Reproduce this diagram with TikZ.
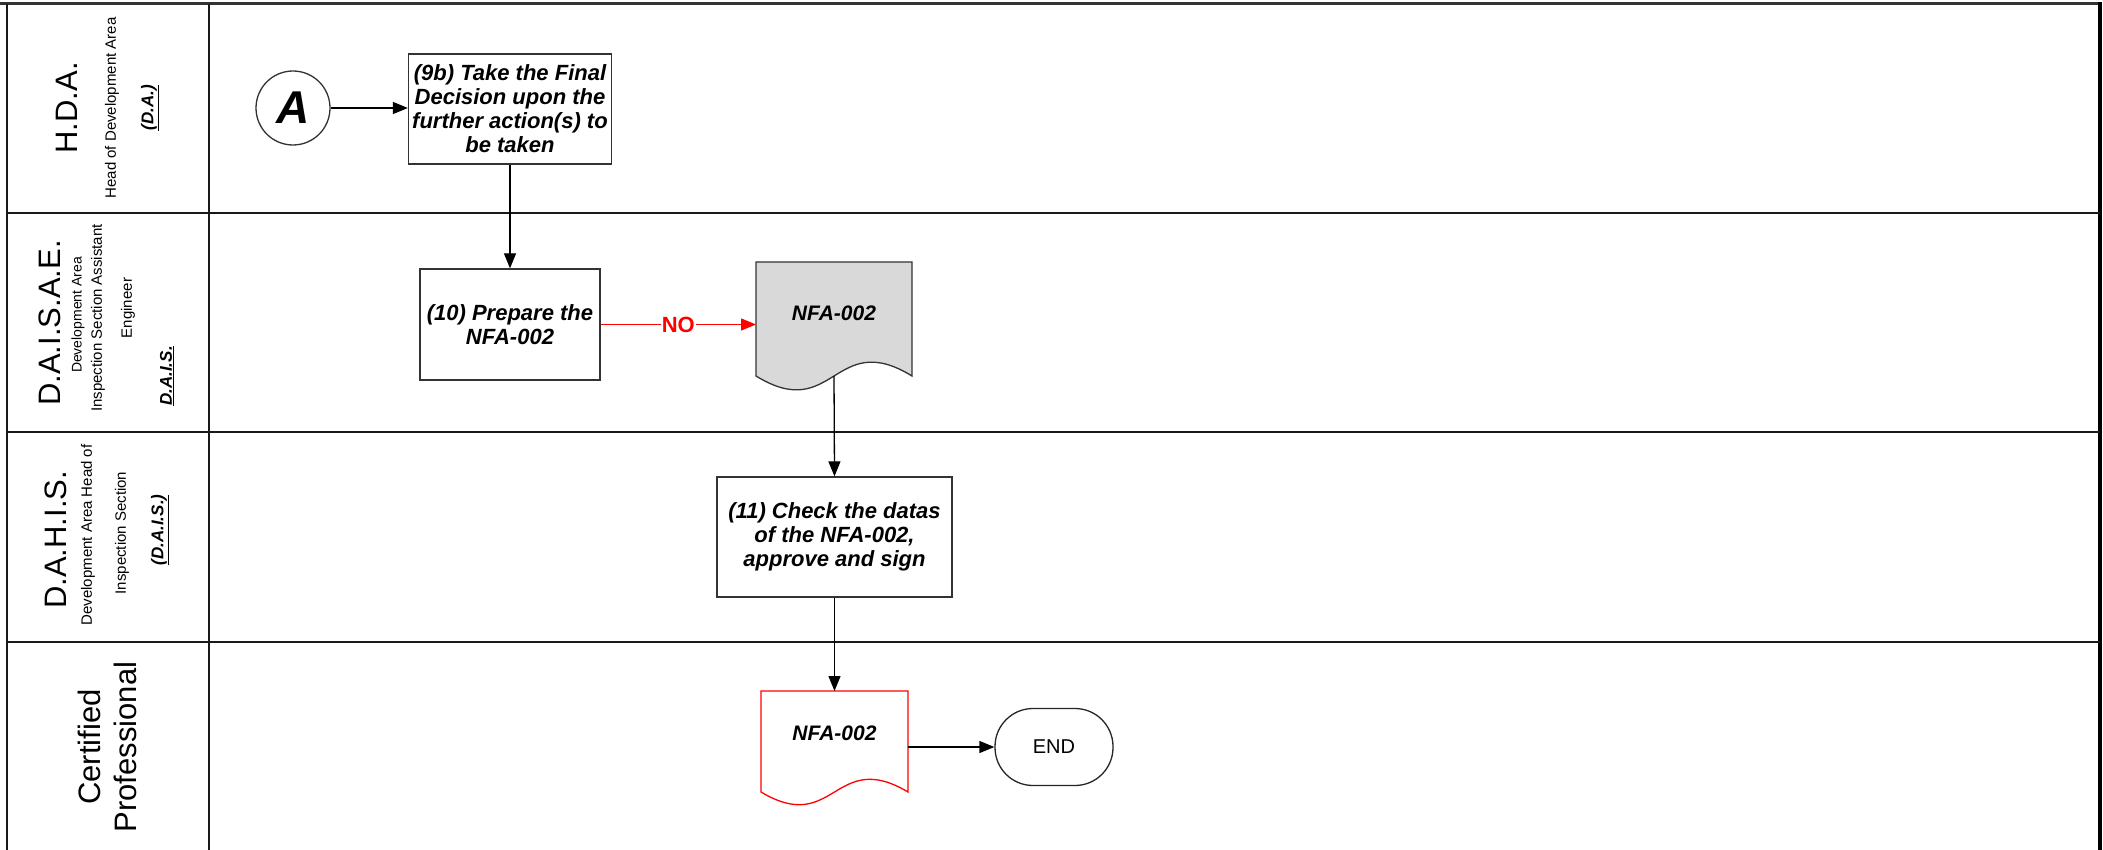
\documentclass[tikz,border=0pt]{standalone}
\usepackage{fontspec}
\setmainfont{Liberation Sans}
\usetikzlibrary{arrows.meta,calc}
\definecolor{docgray}{RGB}{217,217,217}
\definecolor{nored}{RGB}{255,0,0}
\tikzset{
  lane/.style={line width=2pt, draw=black!90},
  proc/.style={draw=black!80, line width=1.3pt, fill=white, align=center,
    font=\fontsize{22}{24}\selectfont\bfseries\itshape, inner sep=0pt},
  conn/.style={line width=1.3pt, draw=black, -{Triangle[length=15pt,width=12pt]}},
  noconn/.style={line width=1.3pt, draw=nored, -{Triangle[length=15pt,width=12pt]}},
  bigl/.style={rotate=90, font=\fontsize{31}{31}\selectfont, inner sep=0pt},
  smalll/.style={rotate=90, font=\fontsize{15}{15}\selectfont, inner sep=0pt},
  abbrl/.style={rotate=90, font=\fontsize{17}{17}\selectfont\bfseries\itshape, inner sep=0pt},
  docarea/.style={inner sep=0pt, outer sep=0pt},
  doctext/.style={font=\fontsize{21}{24}\selectfont\bfseries\itshape, inner sep=0pt},
}
\begin{document}
\begin{tikzpicture}[x=1pt, y=-1pt]
\useasboundingbox (0,0) rectangle (2103,850);
\fill[white] (0,0) rectangle (2103,850);
% swimlane frame
\draw[line width=3pt, draw=black!80] (0,4) -- (2100,4);
\draw[lane] (7,4) -- (7,850);
\draw[line width=4pt, draw=black] (2100,2) -- (2100,850);
\draw[lane] (209,4) -- (209,850);
\draw[lane] (7,213) -- (2100,213);
\draw[lane] (7,432) -- (2100,432);
\draw[lane] (7,642) -- (2100,642);
% lane labels
\node[bigl] (l1a) at (67,108) {H.D.A.};
\node[smalll] (l1b) at (112,108) {Head of Development Area};
\node[abbrl] (l1c) at (150,108) {\underline{(D.A.)}};
\node[bigl] (l2a) at (50,323) {D.A.I.S.A.E.};
\node[smalll, font=\fontsize{14}{14}\selectfont] (l2b) at (78,315) {Development Area};
\node[smalll] (l2c) at (98,318) {Inspection Section Assistant};
\node[smalll] (l2d) at (128,308) {Engineer};
\node[abbrl] (l2e) at (167,376) {\underline{D.A.I.S.}};
\node[bigl] (l3a) at (56,540) {D.A.H.I.S.};
\node[smalll] (l3b) at (88,535) {Development Area Head of};
\node[smalll] (l3c) at (122,533) {Inspection Section};
\node[abbrl] (l3d) at (160,530) {\underline{(D.A.I.S.)}};
\node[bigl] (l4a) at (89,747) {Certified};
\node[bigl] (l4b) at (125,747) {Professional};
% shapes
\node[draw=black!80, circle, line width=1.3pt, minimum size=74pt, inner sep=0pt,
  font=\fontsize{46}{46}\selectfont\bfseries\itshape] (a) at (293,108) {A};
\node[proc, minimum width=203pt, minimum height=110pt] (b9) at (510,109)
  {(9b) Take the Final\\Decision upon the\\further action(s) to\\be taken};
\node[proc, minimum width=180pt, minimum height=111pt] (b10) at (510,324.5)
  {(10) Prepare the\\NFA-002};
\node[docarea, minimum width=156pt, minimum height=114pt] (doc1) at (834,319) {};
\draw[fill=docgray, draw=black!80, line width=1.3pt]
  (doc1.south west) -- (doc1.north west) -- (doc1.north east) -- (doc1.south east)
  .. controls ($(doc1.south)+(0,-48)$) and ($(doc1.south)+(0,48)$) .. (doc1.south west) -- cycle;
\node[doctext] (doc1t) at (834,313) {NFA-002};
\node[proc, minimum width=235pt, minimum height=120pt] (b11) at (834.5,537)
  {(11) Check the datas\\of the NFA-002,\\approve and sign};
\node[docarea, minimum width=147pt, minimum height=101pt] (doc2) at (834.5,741.5) {};
\draw[fill=white, draw=nored, line width=1.3pt]
  (doc2.south west) -- (doc2.north west) -- (doc2.north east) -- (doc2.south east)
  .. controls ($(doc2.south)+(0,-44)$) and ($(doc2.south)+(0,44)$) .. (doc2.south west) -- cycle;
\node[doctext] (doc2t) at (834.5,733) {NFA-002};
\node[draw=black!85, line width=1.3pt, rounded corners=38pt, minimum width=118pt,
  minimum height=77pt, inner sep=0pt, font=\fontsize{20}{20}\selectfont] (end) at (1054,747) {END};
% connectors
\draw[conn] (a) -- (b9.west |- a);
\draw[conn] (b9.south) -- (b10.north);
\draw[noconn] (b10.east) -- node[fill=white, inner sep=1pt, text=nored,
  font=\fontsize{22}{22}\selectfont\bfseries] (nolab) {NO} (b10.east -| doc1.west);
\draw[conn] (doc1.south) -- (b11.north);
\draw[conn] (b11.south) -- (doc2.north);
\draw[conn] (end.west -| doc2.east) -- (end.west);
\end{tikzpicture}
\end{document}
